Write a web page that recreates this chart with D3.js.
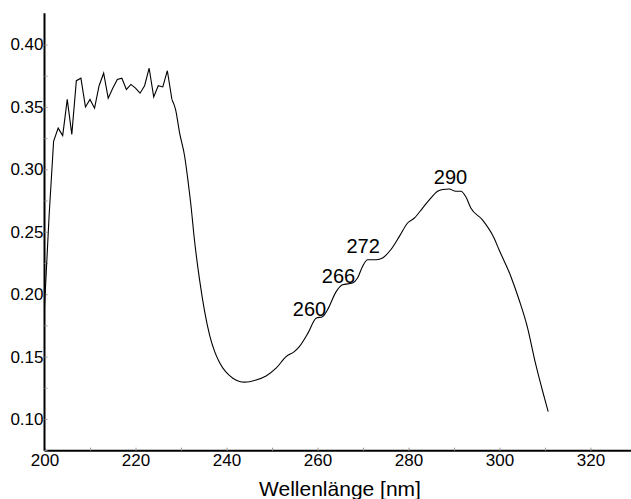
<!DOCTYPE html>
<html>
<head>
<meta charset="utf-8">
<script src="https://cdn.jsdelivr.net/npm/d3@7"></script>
<style>
    body { margin: 0; background: #fff; }
    svg { display: block; font-family: "Liberation Sans", Arial, sans-serif; }
</style>
</head>
<body>
<div id="chart"></div>
<script>
// spectrum: wavelength [nm] / absorbance
const wavelength = [
    200, 201, 202, 203, 204, 205, 206, 207, 208, 209, 210, 211, 212, 213, 214,
    215, 216, 217, 218, 219, 220, 221, 222, 223, 224, 225, 226, 227, 228
];
const absorbance = [
    0.190, 0.262, 0.3225, 0.333, 0.327, 0.356, 0.328, 0.371, 0.373, 0.350, 0.356, 0.349, 0.367, 0.377, 0.357,
    0.365, 0.372, 0.373, 0.364, 0.368, 0.365, 0.361, 0.367, 0.381, 0.358, 0.367, 0.366, 0.379, 0.356
];
const smoothWavelength = [
    228, 228.8, 229.7, 230.8, 231.5, 232.1, 233.0, 234.1, 235.2, 236.3, 237.4, 238.5, 241.4, 244.0,
    246.5, 248.7, 250.9, 253.1, 254.9, 256.0, 257.9, 259.7, 261.1, 262.2, 264.1, 265.5, 267.7, 268.8,
    269.9, 271.0, 272.9, 274.3, 276.1, 278.0, 279.8, 281.3, 283.1, 284.9, 286.4, 287.5, 288.9, 290.4,
    291.5, 292.6, 293.7, 296.2, 298.8, 299.9, 302.5, 304.3, 306.1, 307.9, 309.8, 310.7
];
const smoothAbsorbance = [
    0.356, 0.348, 0.329, 0.3105, 0.292, 0.274, 0.242, 0.211, 0.186, 0.167, 0.154, 0.145, 0.1327, 0.1295,
    0.1313, 0.1345, 0.1407, 0.150, 0.154, 0.158, 0.1688, 0.1808, 0.182, 0.1875, 0.202, 0.2075, 0.209, 0.213,
    0.2222, 0.2276, 0.2276, 0.229, 0.2356, 0.2463, 0.257, 0.261, 0.269, 0.277, 0.2824, 0.2838, 0.2843, 0.2824,
    0.2824, 0.278, 0.269, 0.2597, 0.245, 0.2356, 0.2142, 0.1955, 0.174, 0.1447, 0.1179, 0.1059
];
const peakLabels = [260, 266, 272, 290];
const xTickLabels = [200, 220, 240, 260, 280, 300, 320];
const yTickLabels = [0.10, 0.15, 0.20, 0.25, 0.30, 0.35, 0.40];

const width = 631, height = 499;

const x = d3.scaleLinear().domain([200, 320]).range([44.5, 590.5]);
const y = d3.scaleLinear().domain([0.10, 0.40]).range([419, 44.5]);

const xMax = x.invert(width);
const yMin = y.invert(450.7);
const yMax = y.invert(13.3);

const svg = d3.select("#chart").append("svg")
    .attr("width", width)
    .attr("height", height);

// minor ticks every 10 nm / 0.025, labels only on the major ones
const xTicks = d3.range(200, xMax, 10);
const yTicks = d3.range(0.075, yMax, 0.025);

const xAxis = d3.axisBottom(x)
    .tickValues(xTicks)
    .tickSizeInner(-3)
    .tickSizeOuter(0)
    .tickPadding(3)
    .tickFormat(d => xTickLabels.includes(Math.round(d)) ? d3.format("d")(d) : "");

const yAxis = d3.axisLeft(y)
    .tickValues(yTicks)
    .tickSizeInner(-3)
    .tickSizeOuter(0)
    .tickPadding(1)
    .tickFormat(d => yTickLabels.some(v => Math.abs(v - d) < 1e-6) ? d3.format(".2f")(d) : "");

const gx = svg.append("g")
    .attr("transform", `translate(0,${y(yMin)})`)
    .call(xAxis);
gx.select(".domain").attr("d", `M${x(200)},0H${width}`);

const gy = svg.append("g")
    .attr("transform", `translate(${x(200)},0)`)
    .call(yAxis);
gy.select(".domain").attr("d", `M0,${y(yMax)}V${y(yMin)}`);

svg.selectAll(".domain")
    .attr("stroke", "#000")
    .attr("stroke-width", 2);
svg.selectAll(".tick line")
    .attr("stroke", "#999");
svg.selectAll(".tick text")
    .attr("font-family", "Liberation Sans, Arial, sans-serif")
    .attr("font-size", 17)
    .attr("fill", "#000");

// axis title
svg.append("text")
    .attr("x", 340)
    .attr("y", 496)
    .attr("text-anchor", "middle")
    .attr("font-size", 21)
    .text("Wellenlänge [nm]");

// the curve: noisy part straight, the rest smoothed
const noisy = wavelength.map((d, i) => [d, absorbance[i]]);
const smooth = smoothWavelength.map((d, i) => [d, smoothAbsorbance[i]]);

svg.append("path")
    .datum(noisy)
    .attr("fill", "none")
    .attr("stroke", "#000")
    .attr("stroke-width", 1.1)
    .attr("d", d3.line().x(d => x(d[0])).y(d => y(d[1])));

svg.append("path")
    .datum(smooth)
    .attr("fill", "none")
    .attr("stroke", "#000")
    .attr("stroke-width", 1.1)
    .attr("d", d3.line().curve(d3.curveMonotoneX).x(d => x(d[0])).y(d => y(d[1])));

// peak labels, sat just above the curve
const labelShift = { 260: [-8, -2.3], 266: [-6.3, -1.2], 272: [-9, -6.4], 290: [-3.5, -6.4] };
const bisect = d3.bisector(d => d[0]).left;
function valueAt(nm) {
    const i = Math.max(1, bisect(smooth, nm));
    const a = smooth[i - 1], b = smooth[i];
    const t = (nm - a[0]) / (b[0] - a[0]);
    return a[1] + t * (b[1] - a[1]);
}

svg.selectAll(".peak")
    .data(peakLabels)
    .enter().append("text")
    .attr("class", "peak")
    .attr("x", d => x(d) + labelShift[d][0])
    .attr("y", d => y(valueAt(d)) + labelShift[d][1])
    .attr("text-anchor", "middle")
    .attr("font-size", 20)
    .text(d => d);
</script>
</body>
</html>
